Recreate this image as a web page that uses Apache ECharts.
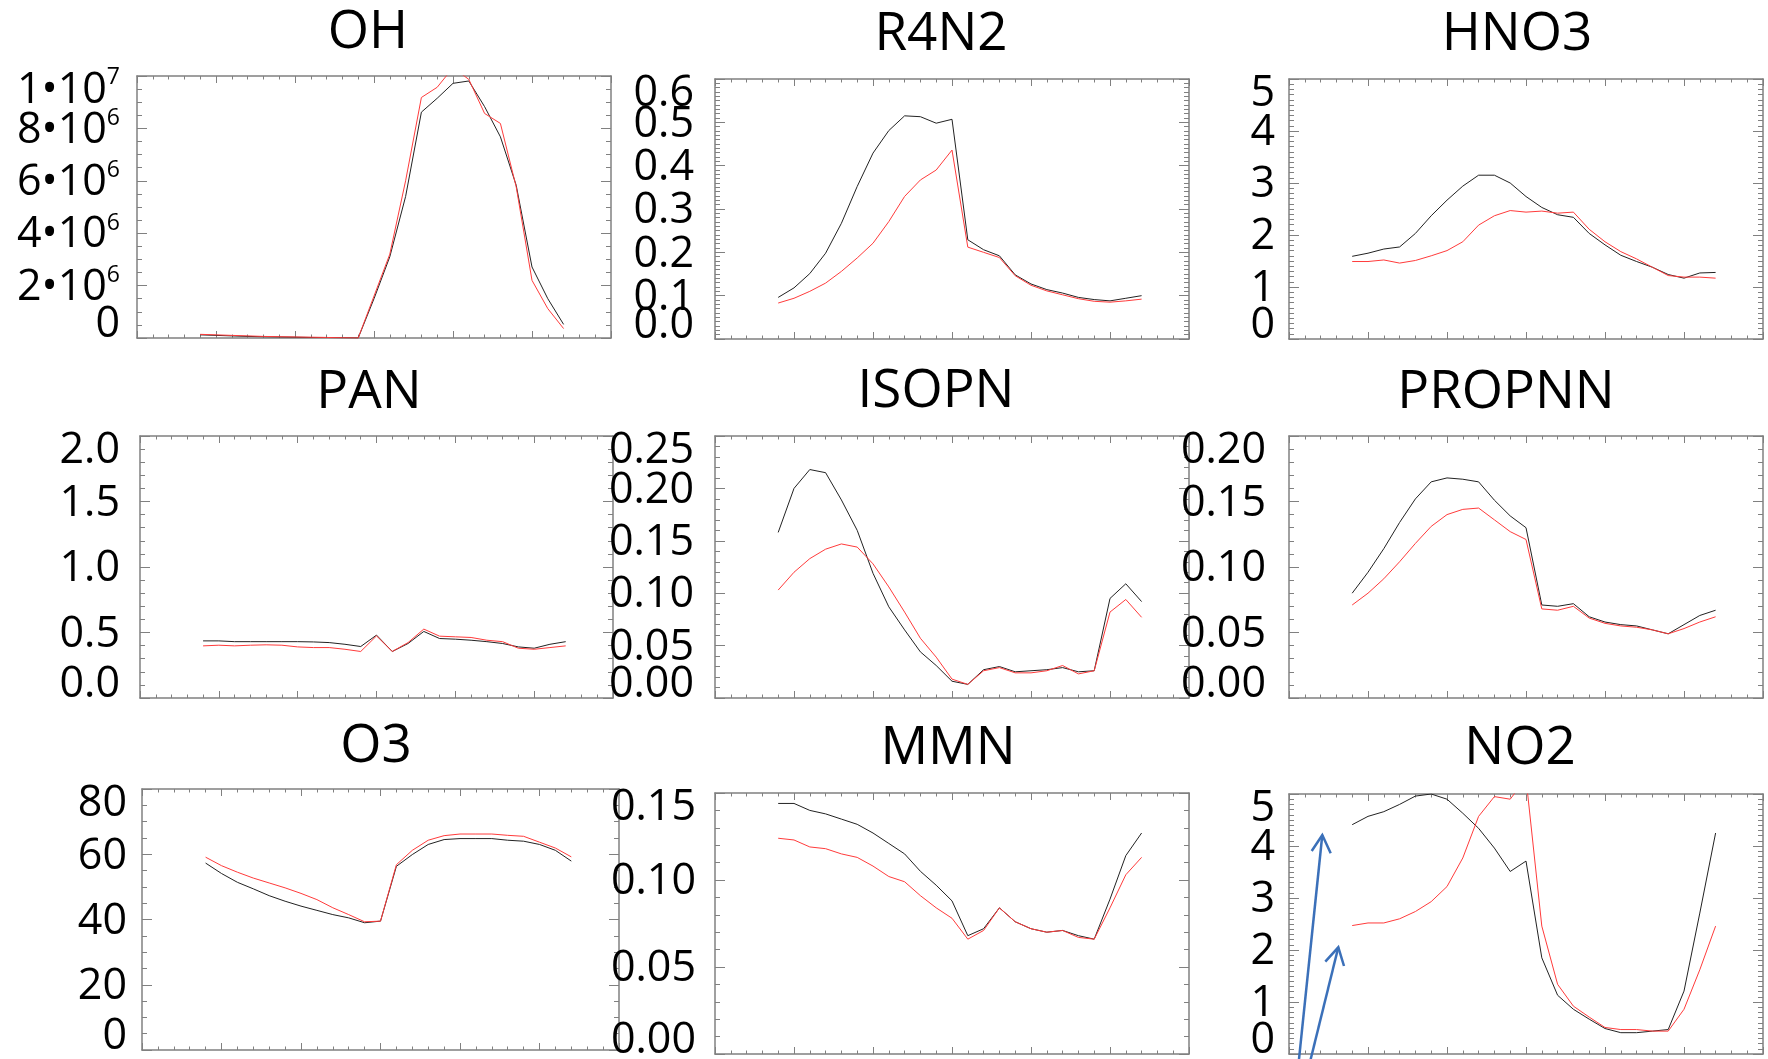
<!DOCTYPE html>
<html>
<head>
<meta charset="utf-8">
<script src="https://cdn.jsdelivr.net/npm/echarts@6/dist/echarts.min.js"></script>
<style>
html,body{margin:0;padding:0;background:#ffffff;}
#chart{width:1768px;height:1059px;}
</style>
</head>
<body>
<div id="chart"></div>
<script>
// ---------------- data ----------------
const times = [4,5,6,7,8,9,10,11,12,13,14,15,16,17,18,19,20,21,22,23,24,25,26,27];

const ohBlack = [120000,100000,80000,60000,50000,40000,30000,20000,20000,10000,0,1500000,3100000,5400000,8620000,9150000,9720000,9810000,8830000,7680000,5830000,2710000,1500000,520000];
const ohRed   = [140000,120000,100000,80000,60000,50000,40000,30000,20000,10000,0,1600000,3200000,6000000,9180000,9570000,10320000,9870000,8570000,8190000,5770000,2200000,1120000,360000];

const r4n2Black = [0.096,0.118,0.151,0.198,0.267,0.352,0.429,0.481,0.515,0.513,0.498,0.507,0.229,0.206,0.192,0.148,0.127,0.114,0.106,0.096,0.091,0.088,0.094,0.100];
const r4n2Red   = [0.083,0.094,0.110,0.129,0.156,0.187,0.221,0.271,0.329,0.367,0.390,0.436,0.212,0.200,0.188,0.146,0.124,0.111,0.102,0.093,0.087,0.085,0.088,0.092];

const hno3Black = [1.59,1.65,1.73,1.77,2.03,2.37,2.67,2.94,3.15,3.15,3.00,2.74,2.53,2.39,2.34,2.03,1.81,1.61,1.49,1.38,1.24,1.17,1.27,1.28];
const hno3Red   = [1.49,1.49,1.52,1.46,1.51,1.60,1.70,1.87,2.19,2.37,2.47,2.44,2.46,2.42,2.44,2.11,1.87,1.68,1.54,1.38,1.22,1.19,1.19,1.17];

const panBlack = [0.436,0.436,0.430,0.430,0.430,0.430,0.430,0.428,0.423,0.410,0.393,0.480,0.355,0.416,0.508,0.454,0.449,0.441,0.430,0.416,0.390,0.380,0.410,0.430];
const panRed   = [0.398,0.403,0.398,0.403,0.406,0.403,0.390,0.385,0.385,0.372,0.355,0.474,0.355,0.423,0.526,0.472,0.467,0.462,0.441,0.430,0.380,0.372,0.385,0.398];

const isopnBlack = [0.158,0.200,0.218,0.215,0.189,0.160,0.119,0.087,0.065,0.044,0.031,0.016,0.013,0.027,0.030,0.025,0.026,0.027,0.029,0.025,0.026,0.095,0.109,0.092];
const isopnRed   = [0.103,0.120,0.133,0.142,0.147,0.144,0.128,0.106,0.082,0.057,0.039,0.018,0.013,0.026,0.029,0.024,0.024,0.026,0.031,0.023,0.026,0.082,0.094,0.077];

const propnnBlack = [0.080,0.096,0.114,0.134,0.152,0.165,0.168,0.167,0.165,0.151,0.139,0.130,0.071,0.070,0.072,0.062,0.058,0.056,0.055,0.052,0.049,0.056,0.063,0.067];
const propnnRed   = [0.071,0.080,0.091,0.104,0.118,0.131,0.140,0.144,0.145,0.136,0.127,0.121,0.068,0.067,0.070,0.061,0.057,0.055,0.054,0.052,0.049,0.053,0.058,0.062];

const o3Black = [57.3,54.1,51.4,49.4,47.3,45.6,44.1,42.8,41.5,40.5,39.0,39.5,56.3,59.9,63.0,64.5,64.8,64.8,64.8,64.3,64.0,63.0,61.2,57.9];
const o3Red   = [59.1,56.5,54.5,52.7,51.2,49.7,48.0,46.1,43.6,41.5,39.3,39.5,56.8,61.2,64.3,65.7,66.2,66.2,66.2,65.8,65.5,63.7,61.9,59.2];

const mmnBlack = [0.144,0.144,0.140,0.138,0.135,0.132,0.127,0.121,0.115,0.105,0.097,0.088,0.068,0.072,0.084,0.076,0.072,0.070,0.071,0.068,0.066,0.089,0.114,0.127];
const mmnRed   = [0.124,0.123,0.119,0.118,0.115,0.113,0.108,0.102,0.099,0.091,0.084,0.078,0.066,0.071,0.084,0.076,0.072,0.070,0.071,0.067,0.066,0.084,0.103,0.113];

const no2Black = [4.41,4.57,4.66,4.80,4.96,5.00,4.90,4.63,4.34,3.96,3.51,3.71,1.85,1.13,0.86,0.67,0.49,0.41,0.41,0.44,0.47,1.21,2.71,4.25];
const no2Red   = [2.47,2.52,2.52,2.60,2.74,2.93,3.22,3.77,4.57,4.95,4.90,5.30,2.46,1.34,0.92,0.71,0.51,0.47,0.47,0.44,0.44,0.86,1.62,2.46];

// tick labels (a '^' marks a superscript)
const ohLabels     = ['0','2•10^6','4•10^6','6•10^6','8•10^6','1•10^7'];
const r4n2Labels   = ['0.0','0.1','0.2','0.3','0.4','0.5','0.6'];
const hno3Labels   = ['0','1','2','3','4','5'];
const panLabels    = ['0.0','0.5','1.0','1.5','2.0'];
const isopnLabels  = ['0.00','0.05','0.10','0.15','0.20','0.25'];
const propnnLabels = ['0.00','0.05','0.10','0.15','0.20'];
const o3Labels     = ['0','20','40','60','80'];
const mmnLabels    = ['0.00','0.05','0.10','0.15'];
const no2Labels    = ['0','1','2','3','4','5'];

// ---------------- panels ----------------
const panels = [
  {title:'OH',     black:ohBlack,     red:ohRed,     labels:ohLabels,     max:1e7,  step:2e6,  minor:4},
  {title:'R4N2',   black:r4n2Black,   red:r4n2Red,   labels:r4n2Labels,   max:0.6,  step:0.1,  minor:10},
  {title:'HNO3',   black:hno3Black,   red:hno3Red,   labels:hno3Labels,   max:5,    step:1,    minor:10},
  {title:'PAN',    black:panBlack,    red:panRed,    labels:panLabels,    max:2,    step:0.5,  minor:5},
  {title:'ISOPN',  black:isopnBlack,  red:isopnRed,  labels:isopnLabels,  max:0.25, step:0.05, minor:5},
  {title:'PROPNN', black:propnnBlack, red:propnnRed, labels:propnnLabels, max:0.20, step:0.05, minor:5},
  {title:'O3',     black:o3Black,     red:o3Red,     labels:o3Labels,     max:80,   step:20,   minor:4},
  {title:'MMN',    black:mmnBlack,    red:mmnRed,    labels:mmnLabels,    max:0.15, step:0.05, minor:5},
  {title:'NO2',    black:no2Black,    red:no2Red,    labels:no2Labels,    max:5,    step:1,    minor:10}
];

// layout: grid rect [left, top, width, height], label margin, title centre [x, y]
const layout = [
  {rect:[137,76,474,262],  margin:17, tc:[368,33]},
  {rect:[715,79,474,260],  margin:21, tc:[941,35]},
  {rect:[1289,79,474,260], margin:14, tc:[1517,35]},
  {rect:[140,436,473,262], margin:20, tc:[369,393]},
  {rect:[715,436,474,262], margin:21, tc:[936,392]},
  {rect:[1289,436,474,262],margin:23, tc:[1506,393]},
  {rect:[142,789,477,261], margin:15, tc:[376,747]},
  {rect:[715,793,474,261], margin:19, tc:[948,749]},
  {rect:[1289,794,474,260],margin:14, tc:[1520,749]}
];

const FONT = 'Open Sans';
const AX = '#808080';
const BLACK = '#222222';
const RED = '#ff3b3b';

const base = {fontFamily:FONT, fontSize:43, color:'#000', lineHeight:8};
const sup  = {fontFamily:FONT, fontSize:23, color:'#000', lineHeight:8};
const rich = {
  loA: Object.assign({}, base, {padding:[0,0,27,0]}),
  loS: Object.assign({}, sup,  {padding:[0,0,27,0]}),
  mdA: Object.assign({}, base, {padding:[17,0,13,0]}),
  mdS: Object.assign({}, sup,  {padding:[5,0,25,0]}),
  hiA: Object.assign({}, base, {padding:[29.5,0,0.5,0]}),
  hiS: Object.assign({}, sup,  {padding:[16.5,0,13.5,0]})
};

function makeFormatter(labels, step) {
  const last = labels.length - 1;
  return function (value) {
    const k = Math.round(value / step);
    if (k < 0 || k > last) return '';
    const txt = labels[k];
    const pos = k === 0 ? 'lo' : (k === last ? 'hi' : 'md');
    const parts = txt.split('^');
    if (parts.length === 2) {
      return '{' + pos + 'A|' + parts[0] + '}{' + pos + 'S|' + parts[1] + '}';
    }
    return '{' + pos + 'A|' + txt + '}';
  };
}

const grids = [], xAxes = [], yAxes = [], series = [], titles = [];
const labelGrids = [], labelX = [], labelY = [];
const n = panels.length;

panels.forEach(function (p, i) {
  const L = layout[i];
  const r = L.rect;
  grids.push({left:r[0], top:r[1], width:r[2], height:r[3], containLabel:false, outerBoundsMode:'none'});
  ['bottom','top'].forEach(function (pos) {
    xAxes.push({
      type:'value', gridIndex:i, position:pos, min:0, max:30, interval:5,
      axisLine:{show:true, onZero:false, lineStyle:{color:AX, width:1.5}},
      axisTick:{show:true, inside:true, length:7, lineStyle:{color:AX, width:1}},
      minorTick:{show:true, splitNumber:5, length:3.5, lineStyle:{color:AX, width:1}},
      splitLine:{show:false}, minorSplitLine:{show:false},
      axisLabel:{show:false}
    });
  });
  ['left','right'].forEach(function (pos) {
    yAxes.push({
      type:'value', gridIndex:i, position:pos, min:0, max:p.max, interval:p.step,
      axisLine:{show:true, onZero:false, lineStyle:{color:AX, width:1.5}},
      axisTick:{show:true, inside:true, length:10, lineStyle:{color:AX, width:1}},
      minorTick:{show:true, splitNumber:p.minor, length:5, lineStyle:{color:AX, width:1}},
      splitLine:{show:false}, minorSplitLine:{show:false},
      axisLabel:{show:false}
    });
  });

  // label-only grid: same scale, extended by one step above and below,
  // so the real end labels are never the first/last label of the axis
  const stepPx = r[3] * p.step / p.max;
  labelGrids.push({left:r[0], top:r[1] - stepPx, width:r[2], height:r[3] + 2 * stepPx,
                   containLabel:false, outerBoundsMode:'none'});
  labelX.push({type:'value', gridIndex:n + i, min:0, max:1, show:false});
  labelY.push({
    type:'value', gridIndex:n + i, position:'left', min:-p.step, max:p.max + p.step, interval:p.step,
    axisLine:{show:false}, axisTick:{show:false}, minorTick:{show:false},
    splitLine:{show:false},
    axisLabel:{show:true, margin:L.margin, hideOverlap:false,
               formatter:makeFormatter(p.labels, p.step), rich:rich,
               fontFamily:FONT, fontSize:43, color:'#000'}
  });

  series.push({
    type:'line', xAxisIndex:2*i, yAxisIndex:2*i, symbol:'none', clip:true, z:2,
    lineStyle:{color:BLACK, width:1},
    data: times.map(function (t, j) { return [t, p.black[j]]; })
  });
  series.push({
    type:'line', xAxisIndex:2*i, yAxisIndex:2*i, symbol:'none', clip:true, z:3,
    lineStyle:{color:RED, width:1},
    data: times.map(function (t, j) { return [t, p.red[j]]; })
  });
  titles.push({
    text:p.title, left:L.tc[0], top:L.tc[1], padding:0,
    textAlign:'center', textVerticalAlign:'middle',
    textStyle:{fontFamily:FONT, fontSize:53, fontWeight:'normal', color:'#000'}
  });
});

// annotation arrows in the NO2 panel
const arrowStyle = {stroke:'#3b70b9', lineWidth:2.5, fill:null, lineJoin:'miter'};
const graphics = [
  {type:'polyline', shape:{points:[[1298.7,1062],[1322.3,835]]}, style:arrowStyle, z:10},
  {type:'polyline', shape:{points:[[1311.7,851],[1322.3,835],[1330.7,853.3]]}, style:arrowStyle, z:10},
  {type:'polyline', shape:{points:[[1310,1062],[1338.3,947.3]]}, style:arrowStyle, z:10},
  {type:'polyline', shape:{points:[[1325.3,961.7],[1338.3,947.3],[1344,966]]}, style:arrowStyle, z:10}
];

const chart = echarts.init(document.getElementById('chart'), null, {renderer:'canvas'});
chart.setOption({
  animation:false,
  backgroundColor:'#ffffff',
  title:titles,
  grid:grids.concat(labelGrids),
  xAxis:xAxes.concat(labelX),
  yAxis:yAxes.concat(labelY),
  series:series,
  graphic:graphics
});
</script>
</body>
</html>
